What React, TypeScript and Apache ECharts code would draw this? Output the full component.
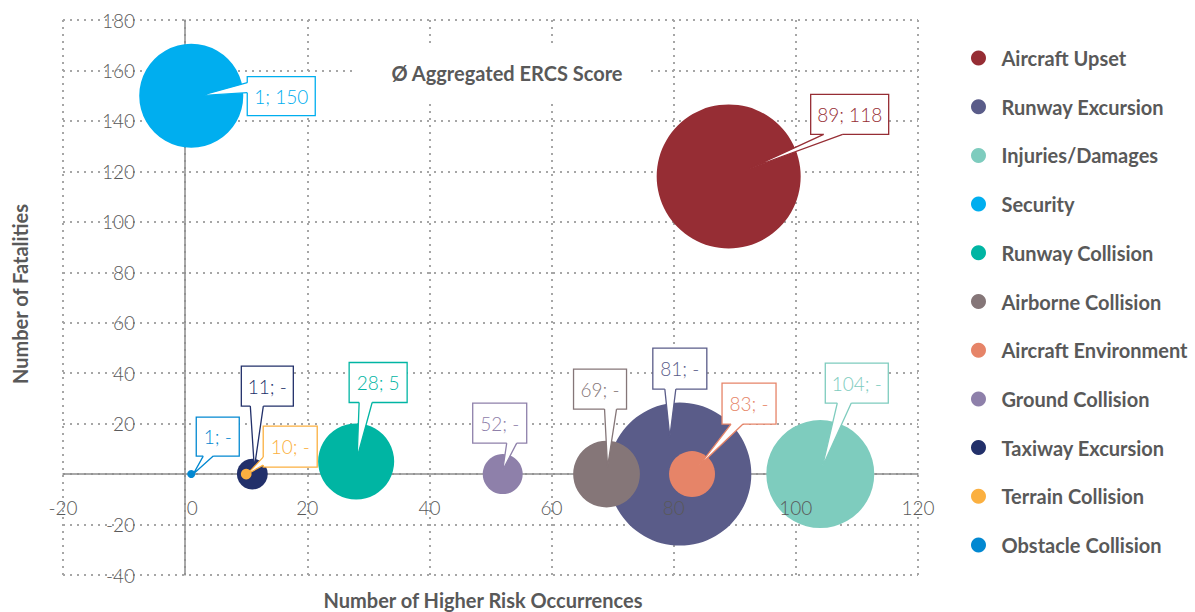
import React, { useEffect, useRef } from "react";
import * as echarts from "echarts";

// ---- data ----
const categories = [
  "Aircraft Upset",
  "Runway Excursion",
  "Injuries/Damages",
  "Security",
  "Runway Collision",
  "Airborne Collision",
  "Aircraft Environment",
  "Ground Collision",
  "Taxiway Excursion",
  "Terrain Collision",
  "Obstacle Collision",
];
// Number of Higher Risk Occurrences
const occurrences = [89, 81, 104, 1, 28, 69, 83, 52, 11, 10, 1];
// Number of Fatalities (0 shown as "-")
const fatalities = [118, 0, 0, 150, 5, 0, 0, 0, 0, 0, 0];
// Ø Aggregated ERCS Score (bubble area)
const ercsScore = [100, 98.6, 56.2, 52.2, 27.9, 21.5, 10.2, 7.7, 4.6, 0.55, 0.31];

const xMin = -20, xMax = 120, xStep = 20;
const yMin = -40, yMax = 180, yStep = 20;

// ---- styles ----
const colors = [
  "#962D34",
  "#5A5C89",
  "#7ECCBE",
  "#00AEEF",
  "#00B5A3",
  "#857678",
  "#E68468",
  "#8E80AA",
  "#22306A",
  "#FBB040",
  "#0288D1",
];
const maxBubbleDiameter = 144;

// callout layout (pixel offsets relative to the bubble centre)
const callouts = [
  { bx: 82, by: -82, w: 78, h: 40, side: "bottom", b1: 95, b2: 114, ax: 21, ay: -8 },
  { bx: -27, by: -126, w: 54, h: 41, side: "bottom", b1: -15, b2: -4, ax: -10, ay: -37 },
  { bx: 5, by: -111, w: 63, h: 40, side: "bottom", b1: 17, b2: 31, ax: 2, ay: -7 },
  { bx: 56, by: -19, w: 68, h: 39, side: "left", b1: -13, b2: -3, ax: 9, ay: 0 },
  { bx: -7, by: -99, w: 58, h: 40, side: "bottom", b1: 3, b2: 16, ax: 1, ay: -4 },
  { bx: -33, by: -105, w: 53, h: 40, side: "bottom", b1: -2, b2: 10, ax: 1, ay: -7 },
  { bx: 30, by: -91, w: 54, h: 41, side: "bottom", b1: 39, b2: 51, ax: 6, ay: -7 },
  { bx: -30, by: -71, w: 54, h: 40, side: "bottom", b1: 4, b2: 14, ax: 0, ay: -4 },
  { bx: -11, by: -108, w: 52, h: 40, side: "bottom", b1: -2, b2: 11, ax: 2, ay: -6 },
  { bx: 17, by: -48, w: 54, h: 41, side: "left", b1: -17, b2: -9, ax: 1, ay: 0 },
  { bx: 5, by: -57, w: 43, h: 39, side: "bottom", b1: 12, b2: 22, ax: 2, ay: 0 },
];

const FONT = "Lato";
const TEXT_GREY = "#595959";
const AXIS_GREY = "#8c8c8c";

const splitLineStyle = { type: [2, 5] as any, color: "#a6a6a6", width: 2 };
const tickLabelFont = { color: TEXT_GREY, fontSize: 19, fontWeight: 300, fontFamily: FONT };

function labelFor(i: number) {
  return `${occurrences[i]}; ${fatalities[i] === 0 ? "-" : fatalities[i]}`;
}

export default function App() {
  const ref = useRef<HTMLDivElement>(null);

  useEffect(() => {
    if (!ref.current) return;
    const chart = echarts.init(ref.current, null, { renderer: "svg" });

    const bubbleSeries = categories.map((name, i) => ({
      type: "scatter",
      name,
      data: [[occurrences[i], fatalities[i]]],
      symbol: "circle",
      symbolSize: maxBubbleDiameter * Math.sqrt(ercsScore[i] / 100),
      itemStyle: { color: colors[i], opacity: 1 },
      emphasis: { disabled: true },
      silent: true,
      clip: false,
      z: 2,
    }));

    const calloutSeries = {
      type: "custom",
      name: "__callouts",
      coordinateSystem: "cartesian2d",
      silent: true,
      clip: false,
      z: 10,
      data: categories.map((_, i) => [occurrences[i], fatalities[i], i]),
      renderItem: (params: any, api: any) => {
        const i = api.value(2);
        const [px, py] = api.coord([api.value(0), api.value(1)]);
        const c = callouts[i];
        const color = colors[i];
        const L = px + c.bx;
        const T = py + c.by;
        const B = T + c.h;
        let b1: number[], b2: number[], f1: number[], f2: number[];
        if (c.side === "bottom") {
          b1 = [px + c.b1, B];
          b2 = [px + c.b2, B];
          f1 = [px + c.b1, B - 1.5];
          f2 = [px + c.b2, B - 1.5];
        } else {
          b1 = [L, py + c.b1];
          b2 = [L, py + c.b2];
          f1 = [L + 1.5, py + c.b1];
          f2 = [L + 1.5, py + c.b2];
        }
        const apex = [px + c.ax, py + c.ay];
        return {
          type: "group",
          children: [
            {
              type: "rect",
              shape: { x: L, y: T, width: c.w, height: c.h },
              style: { fill: "#fff", stroke: color, lineWidth: 1.3 },
            },
            {
              type: "polygon",
              shape: { points: [f1, b1, apex, b2, f2] },
              style: { fill: "#fff" },
            },
            {
              type: "polyline",
              shape: { points: [b1, apex, b2] },
              style: { stroke: color, lineWidth: 1.3, fill: "none" },
            },
            {
              type: "text",
              style: {
                text: labelFor(i),
                x: L + c.w / 2,
                y: T + c.h / 2,
                align: "center",
                verticalAlign: "middle",
                fill: color,
                fontFamily: FONT,
                fontWeight: 300,
                fontSize: 19,
              },
            },
          ],
        };
      },
    };

    const axisTitleStyle = {
      align: "center",
      verticalAlign: "middle",
      fill: TEXT_GREY,
      fontFamily: FONT,
      fontWeight: "bold",
      fontSize: 20,
    };

    const option: any = {
      animation: false,
      textStyle: { fontFamily: FONT },
      grid: { left: 63, right: 277, top: 20, bottom: 37, containLabel: false, outerBoundsMode: "none" },
      xAxis: [
        {
          type: "value",
          min: xMin,
          max: xMax,
          interval: xStep,
          axisLine: { show: true, onZero: true, lineStyle: { color: AXIS_GREY, width: 1.5 } },
          axisTick: { show: false },
          axisLabel: { show: false },
          splitLine: { show: true, lineStyle: splitLineStyle },
        },
        {
          // tick labels only, drawn above the bubbles
          type: "value",
          position: "bottom",
          min: xMin,
          max: xMax,
          interval: xStep,
          z: 5,
          axisLine: { show: false, onZero: false },
          axisTick: { show: false },
          splitLine: { show: false },
          axisLabel: {
            margin: -77,
            ...tickLabelFont,
            formatter: (v: number) => (v === 0 ? "{z|0}" : String(v)),
            rich: { z: { ...tickLabelFont, padding: [0, 0, 0, 14] } },
          },
        },
      ],
      yAxis: {
        type: "value",
        min: yMin,
        max: yMax,
        interval: yStep,
        axisLine: { show: true, onZero: true, lineStyle: { color: AXIS_GREY, width: 1.5 } },
        axisTick: { show: false },
        axisLabel: {
          margin: -72,
          ...tickLabelFont,
          formatter: (v: number) => (v === 0 ? "" : String(v)),
        },
        splitLine: { show: true, lineStyle: splitLineStyle },
      },
      legend: {
        orient: "vertical",
        left: 966,
        top: 43,
        itemWidth: 36,
        itemHeight: 15,
        itemGap: 28.7,
        icon: "circle",
        selectedMode: false,
        data: categories,
        textStyle: { fontFamily: FONT, fontWeight: "bold", fontSize: 20, color: TEXT_GREY, lineHeight: 20 },
      },
      graphic: [
        {
          type: "rect",
          z: 1,
          shape: { x: 355, y: 47, width: 293, height: 54 },
          style: { fill: "#fff" },
        },
        {
          type: "text",
          z: 1,
          x: 507,
          y: 73,
          style: { text: "Ø Aggregated ERCS Score", ...axisTitleStyle },
        },
        {
          type: "text",
          z: 1,
          x: 20,
          y: 294,
          rotation: Math.PI / 2,
          style: { text: "Number of Fatalities", ...axisTitleStyle },
        },
        {
          type: "text",
          z: 1,
          x: 483,
          y: 600,
          style: { text: "Number of Higher Risk Occurrences", ...axisTitleStyle },
        },
      ],
      series: [...bubbleSeries, calloutSeries],
    };

    chart.setOption(option);
    return () => chart.dispose();
  }, []);

  return (
    <div
      ref={ref}
      style={{ position: "absolute", left: 0, top: 0, width: 1195, height: 612 }}
    />
  );
}
